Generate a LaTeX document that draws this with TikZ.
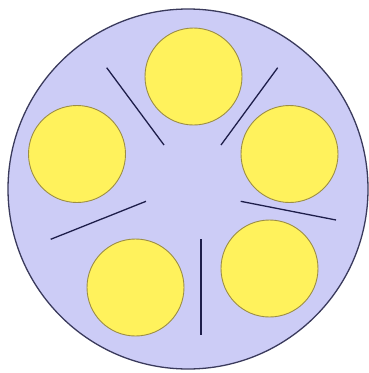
\documentclass[tikz,border=0pt]{standalone}
\usepackage{xcolor}
\usepackage{tikz}
\definecolor{lavbg}{HTML}{CCCCF6}
\definecolor{rimx}{HTML}{3A3A5C}
\definecolor{yellx}{HTML}{FFF25C}
\definecolor{olivex}{HTML}{9C8E45}
\definecolor{navyx}{HTML}{1E1E4A}
\tikzset{
  dish/.style={draw=rimx,line width=1.3pt,fill=lavbg},
  well/.style={circle,draw=olivex,line width=0.9pt,fill=yellx,minimum size=97pt,inner sep=0pt},
  wall/.style={navyx,line width=1.3pt}
}

\begin{document}
\begin{tikzpicture}[x=1pt,y=-1pt]
\useasboundingbox (0,0) rectangle (369,373);
\draw[dish] (188,189) circle (180);
\node[well] (wt) at (193.5,76.5) {};
\node[well] (wl) at (77,154) {};
\node[well] (wr) at (289.5,154) {};
\node[well] (wbl) at (135.5,287.5) {};
\node[well] (wbr) at (269.5,268.5) {};
\draw[wall] (106.7,67.7) -- (164,145);
\draw[wall] (277.7,67.7) -- (221,145);
\draw[wall] (50.7,239.3) -- (146,201.3);
\draw[wall] (240.7,201.3) -- (336,220);
\draw[wall] (201,239.3) -- (201,335);
\end{tikzpicture}
\end{document}
